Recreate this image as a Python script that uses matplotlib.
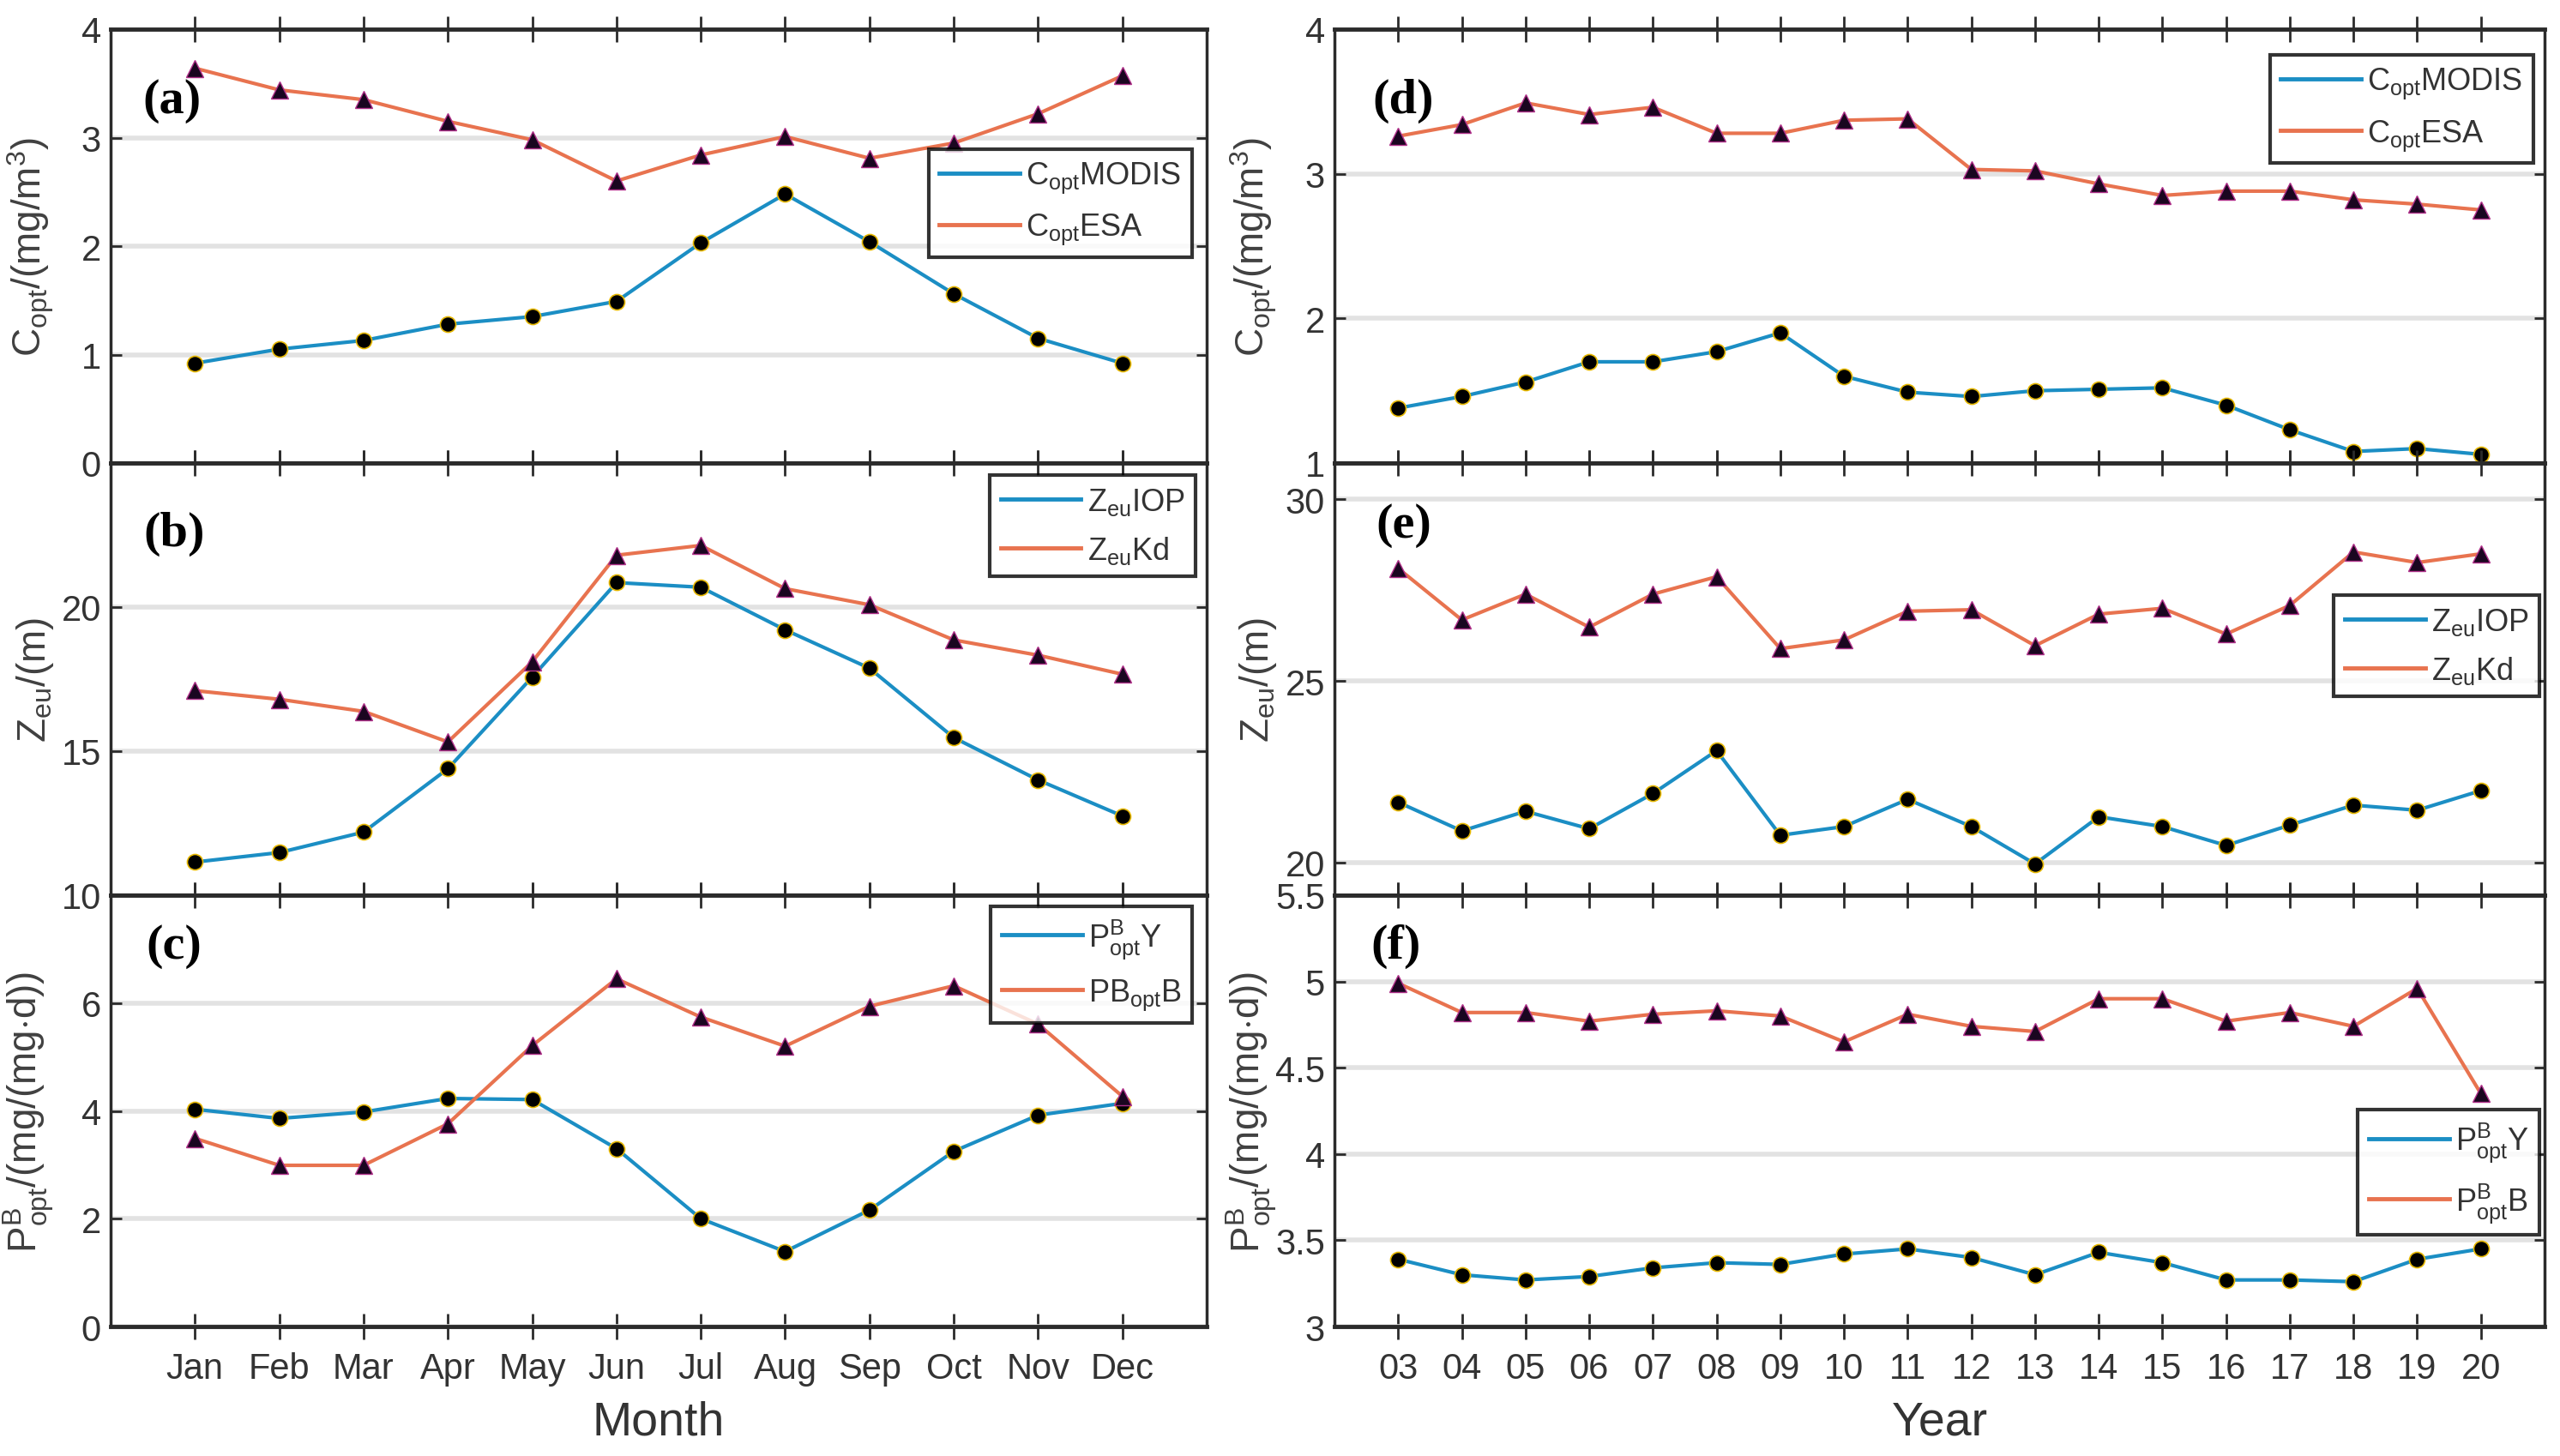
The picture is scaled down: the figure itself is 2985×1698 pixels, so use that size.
import numpy as np
import matplotlib
matplotlib.use("Agg")
import matplotlib.pyplot as plt
from matplotlib import font_manager

# ---- data ----
months = ["Jan", "Feb", "Mar", "Apr", "May", "Jun", "Jul", "Aug", "Sep", "Oct", "Nov", "Dec"]
years = ["03", "04", "05", "06", "07", "08", "09", "10", "11", "12",
         "13", "14", "15", "16", "17", "18", "19", "20"]

# monthly climatology
copt_modis_m = [0.92, 1.05, 1.13, 1.28, 1.35, 1.49, 2.03, 2.48, 2.04, 1.56, 1.15, 0.92]
copt_esa_m = [3.64, 3.44, 3.35, 3.15, 2.98, 2.60, 2.84, 3.01, 2.81, 2.95, 3.22, 3.57]
zeu_iop_m = [11.15, 11.48, 12.19, 14.39, 17.57, 20.85, 20.69, 19.21, 17.88, 15.47, 14.00, 12.75]
zeu_kd_m = [17.10, 16.80, 16.38, 15.32, 18.10, 21.80, 22.14, 20.64, 20.08, 18.86, 18.33, 17.67]
pbopt_y_m = [4.03, 3.86, 3.98, 4.23, 4.21, 3.30, 2.00, 1.39, 2.16, 3.25, 3.92, 4.14]
pbopt_b_m = [3.49, 2.99, 2.99, 3.76, 5.21, 6.45, 5.74, 5.20, 5.94, 6.32, 5.61, 4.27]

# interannual
copt_modis_y = [1.38, 1.46, 1.56, 1.70, 1.70, 1.77, 1.90, 1.60, 1.49, 1.46,
                1.50, 1.51, 1.52, 1.40, 1.23, 1.08, 1.10, 1.06]
copt_esa_y = [3.26, 3.34, 3.49, 3.41, 3.46, 3.28, 3.28, 3.37, 3.38, 3.03,
              3.02, 2.93, 2.85, 2.88, 2.88, 2.82, 2.79, 2.75]
zeu_iop_y = [21.66, 20.87, 21.41, 20.93, 21.90, 23.08, 20.75, 20.99, 21.74, 20.99,
             19.96, 21.26, 20.99, 20.47, 21.03, 21.58, 21.44, 21.98]
zeu_kd_y = [28.10, 26.68, 27.39, 26.48, 27.39, 27.87, 25.89, 26.13, 26.92, 26.96,
            25.97, 26.84, 27.00, 26.29, 27.08, 28.55, 28.26, 28.50]
pbopt_y_y = [3.39, 3.30, 3.27, 3.29, 3.34, 3.37, 3.36, 3.42, 3.45, 3.40,
             3.30, 3.43, 3.37, 3.27, 3.27, 3.26, 3.39, 3.45]
pbopt_b_y = [4.99, 4.82, 4.82, 4.77, 4.81, 4.83, 4.80, 4.65, 4.81, 4.74,
             4.71, 4.90, 4.90, 4.77, 4.82, 4.74, 4.96, 4.35]

# ---- fonts ----
names = {f.name for f in font_manager.fontManager.ttflist}
narrow = "Liberation Sans Narrow" if "Liberation Sans Narrow" in names else "Liberation Sans"
plt.rcParams["font.family"] = [narrow, "DejaVu Sans"]
plt.rcParams["mathtext.fontset"] = "custom"
plt.rcParams["mathtext.rm"] = narrow
plt.rcParams["mathtext.it"] = narrow
plt.rcParams["mathtext.default"] = "rm"

BLUE = "#1b8ec4"
ORANGE = "#e8734f"
TXT = "#333333"

W, H = 2985, 1699
fig = plt.figure(figsize=(W / 100, H / 100), dpi=100)


def frac_box(x0, x1, y0, y1):
    return [x0 / W, 1 - y1 / H, (x1 - x0) / W, (y1 - y0) / H]


rows = [(35, 541), (541, 1045), (1045, 1548)]
left_x = (129, 1407)
right_x = (1556, 2967)


def style_axis(ax, xs, xlim, ylim, yticks, xticklabels=None):
    ax.set_xlim(*xlim)
    ax.set_ylim(*ylim)
    ax.set_xticks(xs)
    ax.set_yticks(yticks)
    ax.set_yticklabels([("%g" % t) for t in yticks])
    if xticklabels is None:
        ax.set_xticklabels([])
    else:
        ax.set_xticklabels(xticklabels)
    ax.grid(axis="y", color="#e2e2e2", lw=4, zorder=0)
    ax.set_axisbelow(True)
    for s in ["top", "bottom"]:
        ax.spines[s].set_linewidth(3.5)
        ax.spines[s].set_color("#2b2b2b")
    for s in ["left", "right"]:
        ax.spines[s].set_linewidth(2.5)
        ax.spines[s].set_color("#2b2b2b")
    ax.tick_params(axis="x", direction="inout", length=22, width=2, top=True,
                   bottom=True, colors="#2b2b2b", labelsize=30, labelcolor=TXT, pad=10)
    ax.tick_params(axis="y", direction="in", length=9, width=2, left=True,
                   right=True, colors="#2b2b2b", labelsize=30, labelcolor=TXT, pad=8)


def draw(ax, xs, a, b, la, lb, leg_anchor, panel, panel_xy, ylabel):
    ax.plot(xs, a, color=BLUE, lw=3, marker="o", ms=13, mfc="black",
            mec="#e6b800", mew=1.2, label=la, zorder=3)
    ax.plot(xs, b, color=ORANGE, lw=3, marker="^", ms=14, mfc="#1a0620",
            mec="#b0308a", mew=1.0, label=lb, zorder=3)
    leg = ax.legend(loc="upper right", bbox_to_anchor=leg_anchor, fontsize=26,
                    frameon=True, fancybox=False, edgecolor="black",
                    handlelength=2.6, handletextpad=0.2, borderpad=0.35,
                    labelspacing=0.55, borderaxespad=0, markerscale=0)
    leg.get_frame().set_linewidth(3)
    for h in leg.get_lines():
        h.set_marker("")
        h.set_linewidth(3.5)
    for t in leg.get_texts():
        t.set_color(TXT)
    ax.text(panel_xy[0], panel_xy[1], panel, transform=ax.transAxes,
            fontsize=42, fontweight="bold", family="Liberation Serif",
            ha="center", va="center", color="black")
    ax.set_ylabel(ylabel, fontsize=33, color="#404040", family="Liberation Sans")


mx = np.arange(1, len(months) + 1)
yx = np.arange(3, 3 + len(years))

lab_c = r"C$_{opt}$/(mg/m$^{3}$)"
lab_z = r"Z$_{eu}$/(m)"
lab_p = r"P$^{B}_{opt}$/(mg/(mg$\cdot$d))"

LX = -0.05
RX = -0.046

# left column
ax = fig.add_axes(frac_box(*left_x, *rows[0]))
draw(ax, mx, copt_modis_m, copt_esa_m, r"C$_{opt}$MODIS", r"C$_{opt}$ESA",
     (0.987, 0.723), "(a)", (0.056, 0.836), lab_c)
style_axis(ax, mx, (0, 13), (0, 4), [0, 1, 2, 3, 4])
ax.yaxis.set_label_coords(LX, 0.5)

ax = fig.add_axes(frac_box(*left_x, *rows[1]))
draw(ax, mx, zeu_iop_m, zeu_kd_m, r"Z$_{eu}$IOP", r"Z$_{eu}$Kd",
     (0.990, 0.972), "(b)", (0.058, 0.837), lab_z)
style_axis(ax, mx, (0, 13), (10, 25), [10, 15, 20])
ax.yaxis.set_label_coords(LX, 0.5)

ax = fig.add_axes(frac_box(*left_x, *rows[2]))
draw(ax, mx, pbopt_y_m, pbopt_b_m, r"P$^{B}_{opt}$Y", r"PB$_{opt}$B",
     (0.987, 0.975), "(c)", (0.058, 0.883), lab_p)
style_axis(ax, mx, (0, 13), (0, 8), [0, 2, 4, 6], months)
ax.yaxis.set_label_coords(LX, 0.5)
ax.set_xlabel("Month", fontsize=40, color=TXT, labelpad=12)

# right column
ax = fig.add_axes(frac_box(*right_x, *rows[0]))
draw(ax, yx, copt_modis_y, copt_esa_y, r"C$_{opt}$MODIS", r"C$_{opt}$ESA",
     (0.991, 0.94), "(d)", (0.057, 0.836), lab_c)
style_axis(ax, yx, (2, 21), (1, 4), [1, 2, 3, 4])
ax.yaxis.set_label_coords(RX, 0.5)

ax = fig.add_axes(frac_box(*right_x, *rows[1]))
draw(ax, yx, zeu_iop_y, zeu_kd_y, r"Z$_{eu}$IOP", r"Z$_{eu}$Kd",
     (0.996, 0.694), "(e)", (0.057, 0.857), lab_z)
style_axis(ax, yx, (2, 21), (19.1, 31), [20, 25, 30])
ax.yaxis.set_label_coords(RX, 0.5)

ax = fig.add_axes(frac_box(*right_x, *rows[2]))
draw(ax, yx, pbopt_y_y, pbopt_b_y, r"P$^{B}_{opt}$Y", r"P$^{B}_{opt}$B",
     (0.996, 0.503), "(f)", (0.051, 0.883), lab_p)
style_axis(ax, yx, (2, 21), (3, 5.5), [3, 3.5, 4, 4.5, 5, 5.5], years)
ax.yaxis.set_label_coords(RX, 0.5)
ax.set_xlabel("Year", fontsize=40, color=TXT, labelpad=12)

fig.savefig("out.png", dpi=100, facecolor="white")
